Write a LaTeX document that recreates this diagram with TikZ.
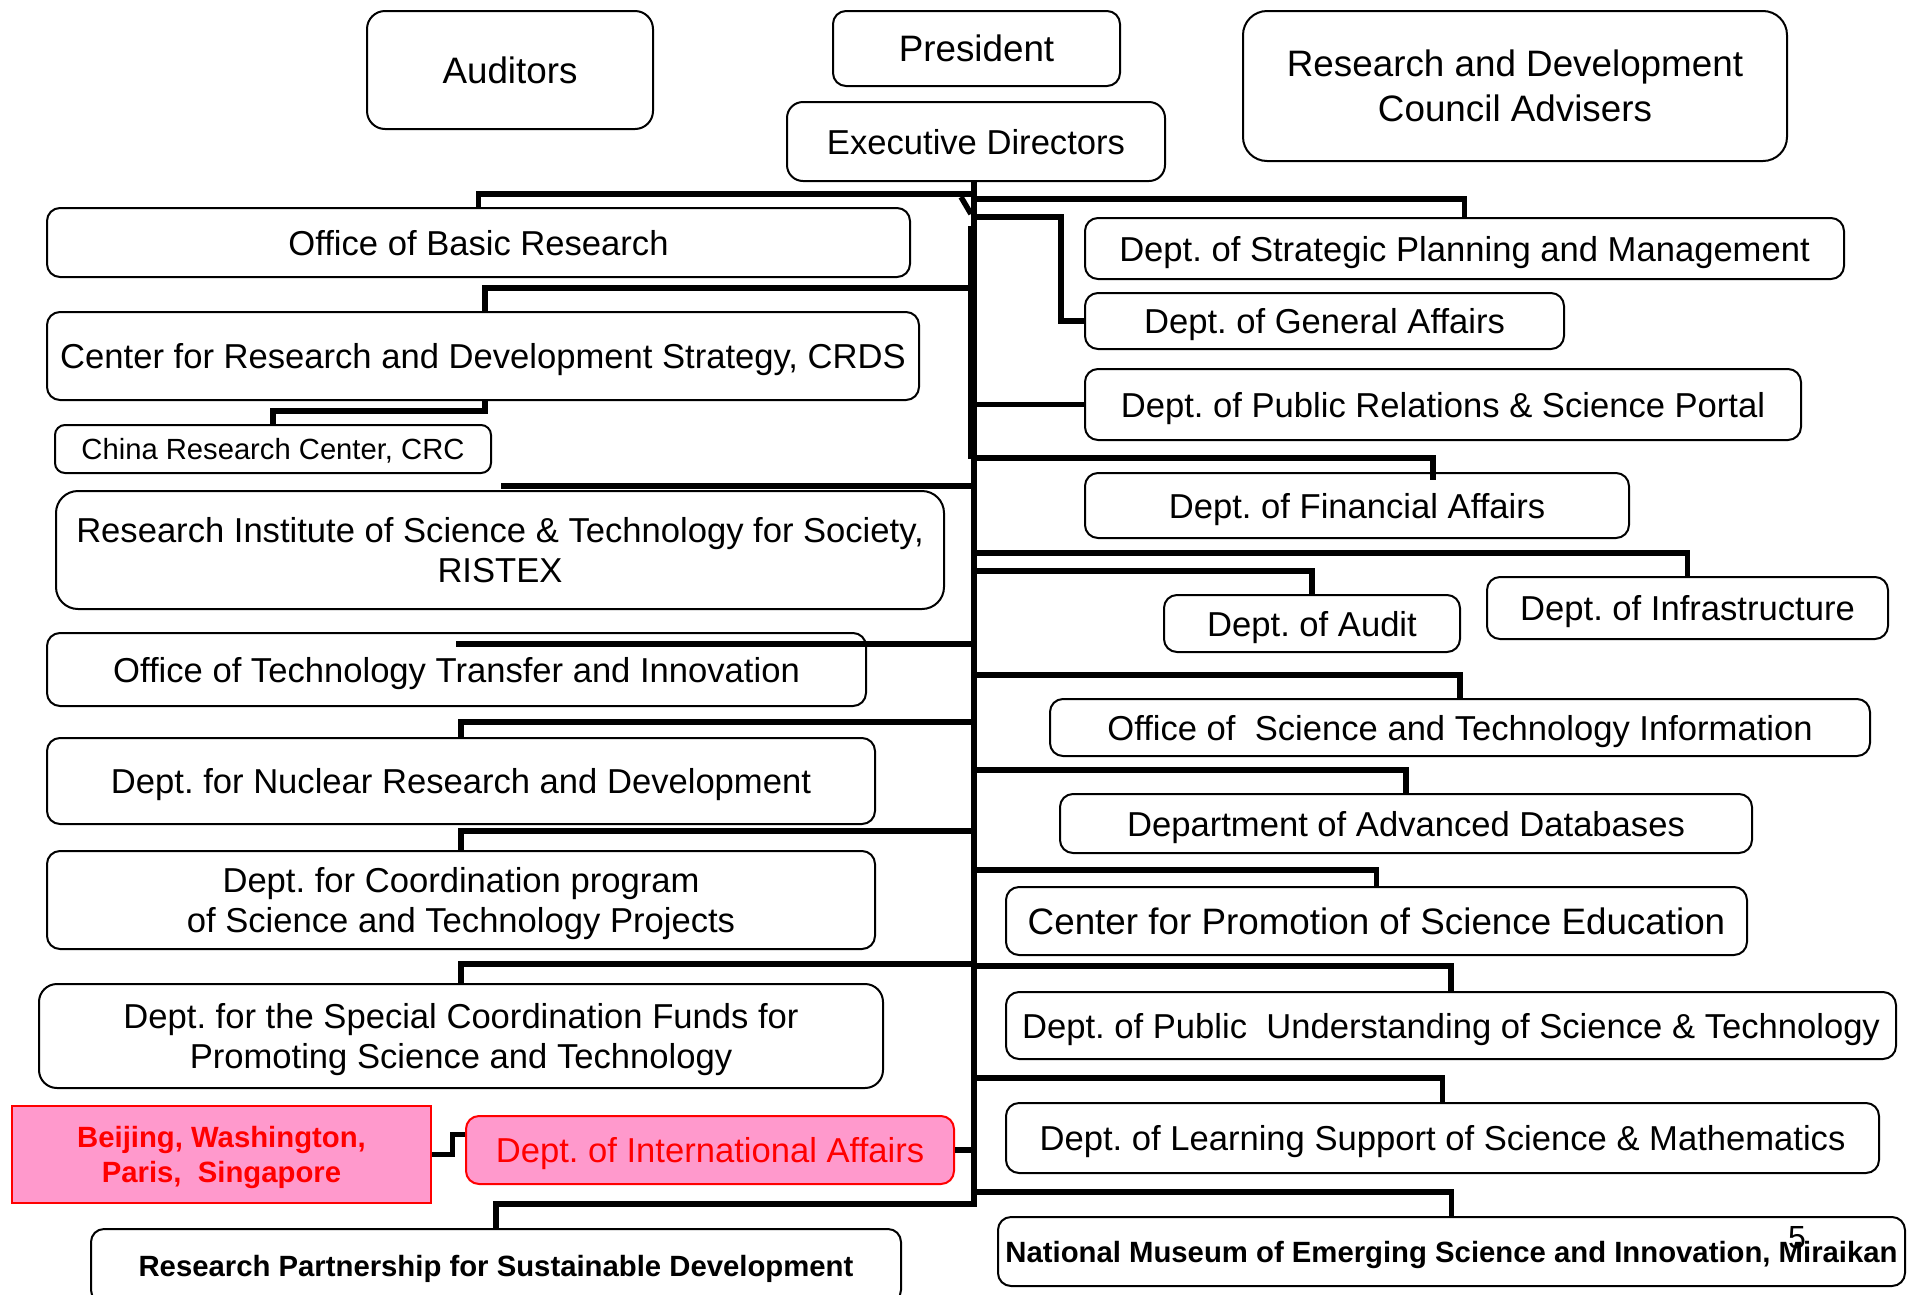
\documentclass[tikz,border=0pt]{standalone}
\usepackage{fontspec}
\setmainfont{Liberation Sans}
\frenchspacing
\definecolor{pinkfill}{RGB}{255,153,204}
\definecolor{redline}{RGB}{255,0,0}
\newcommand\fmain{\fontsize{34.6pt}{40pt}\selectfont}
\newcommand\fbig{\fontsize{36.8pt}{45pt}\selectfont}
\newcommand\fsmall{\fontsize{29.2pt}{35pt}\selectfont}
\newcommand\fbold{\bfseries\fontsize{29.3pt}{35pt}\selectfont}
\tikzset{
  box/.style={draw=black, line width=2pt, rounded corners=13pt, fill=white,
    inner sep=0pt, align=center, anchor=north west, font=\fmain, text depth=0pt},
  bigbox/.style={box, rounded corners=18pt, font=\fbig},
  pinkbox/.style={box, draw=redline, fill=pinkfill, text=redline},
  conn/.style={draw=black, line width=5.5pt},
}
% #1 options, #2 name, #3 x1, #4 y1, #5 x2, #6 y2, #7 text
\newcommand\bx[7][]{%
  \pgfmathsetmacro\bxw{#5-#3}%
  \pgfmathsetmacro\bxh{#6-#4}%
  \node[box,#1,minimum width=\bxw pt,minimum height=\bxh pt] (#2) at (#3,#4) {#7};}
\begin{document}
\begin{tikzpicture}[x=1pt,y=-1pt]
\useasboundingbox (0,0) rectangle (1912,1294);
\fill[white] (0,0) rectangle (1912,1294);

% top
\bx[bigbox]{aud}{366}{10}{652}{128}{Auditors}
\bx[bigbox,rounded corners=13pt]{pres}{832}{10}{1119}{85}{President}
\bx[rounded corners=16pt]{ed}{786}{101}{1164}{180}{Executive Directors}
\bx[bigbox,rounded corners=24pt]{rdc}{1242}{10}{1786}{160}{Research and Development\\Council Advisers}

% left column
\bx{obr}{46}{207}{909}{276}{Office of Basic Research}
\bx{crds}{46}{311}{918}{399}{Center for Research and Development Strategy, CRDS}
\bx[font=\fsmall,rounded corners=10pt]{crc}{54}{424}{490}{472}{China Research Center, CRC}
\bx[rounded corners=22pt]{ristex}{55}{490}{943}{608}{Research Institute of Science \& Technology for Society,\\RISTEX}
\bx{ottf}{46}{632}{865}{705}{Office of Technology Transfer and Innovation}
\bx{nuc}{46}{737}{874}{823}{Dept. for Nuclear Research and Development}
\bx{cpst}{46}{850}{874}{948}{Dept. for Coordination program\\of Science and Technology Projects}
\bx[rounded corners=18pt]{scf}{38}{983}{882}{1087}{Dept. for the Special Coordination Funds for\\Promoting Science and Technology}
\bx[pinkbox,rounded corners=0pt,font=\fbold]{bj}{11}{1105}{430}{1202}{Beijing, Washington,\\Paris,\ \ Singapore}
\bx[pinkbox]{ia}{465}{1115}{953}{1183}{Dept. of International Affairs}
\bx[font=\fbold]{rps}{90}{1228}{900}{1302}{Research Partnership for Sustainable Development}

% right column
\bx{spm}{1084}{217}{1843}{278}{Dept. of Strategic Planning and Management}
\bx{ga}{1084}{292}{1563}{348}{Dept. of General Affairs}
\bx{pr}{1084}{368}{1800}{439}{Dept. of Public Relations \& Science Portal}
\bx{fa}{1084}{472}{1628}{537}{Dept. of Financial Affairs}
\bx{au}{1163}{594}{1459}{651}{Dept. of Audit}
\bx{inf}{1486}{576}{1887}{638}{Dept. of Infrastructure}
\bx{sti}{1049}{698}{1869}{755}{Office of\ \ Science and Technology Information}
\bx{adb}{1059}{793}{1751}{852}{Department of Advanced Databases}
\bx[font=\fbig]{cpse}{1005}{886}{1746}{954}{Center for Promotion of Science Education}
\bx{pus}{1005}{991}{1895}{1058}{Dept. of Public\ \ Understanding of Science \& Technology}
\bx{lss}{1005}{1102}{1878}{1172}{Dept. of Learning Support of Science \& Mathematics}
\bx[font=\fbold]{nm}{997}{1216}{1904}{1285}{National Museum of Emerging Science and Innovation, Miraikan}

\node[font=\fontsize{32pt}{36pt}\selectfont, inner sep=0pt] (pg) at (1797,1238) {5};

% trunk coordinates
\coordinate (tbot) at (974,1207);
\coordinate (tobr) at (974,194);
\coordinate (tspm) at (974,199);
\coordinate (tga) at (974,217);
\coordinate (tcrds) at (974,288);
\coordinate (tfa) at (974,458);
\coordinate (tris) at (974,486);
\coordinate (tinf) at (974,553);
\coordinate (tau) at (974,571);
\coordinate (tottf) at (974,644);
\coordinate (tsti) at (974,675);
\coordinate (tnuc) at (974,722);
\coordinate (tadb) at (974,770);
\coordinate (tcpst) at (974,831);
\coordinate (tcpse) at (974,870);
\coordinate (tscf) at (974,964);
\coordinate (tpus) at (974,966);
\coordinate (tlss) at (974,1078);
\coordinate (tnm) at (974,1192);
\coordinate (trps) at (974,1204);
\coordinate (risend) at (501,486);
\coordinate (ottfend) at (456,644);
\coordinate (faend) at (1433,480);
\coordinate (ydiag) at (961,197);
\coordinate (ydiagb) at (971,214);

% trunk
\draw[line width=6pt] (ed.south -| tbot) -- (tbot);
\draw[line width=9pt] (972.5,226) -- (972.5,459);
\draw[conn] (ydiag) -- (ydiagb);

% left branches
\draw[conn] (tobr) -| (obr.north);
\draw[conn] (tcrds) -| ([xshift=2pt]crds.north);
\draw[conn] ([xshift=2pt]crds.south) |- ([yshift=13pt]crc.north) -- (crc.north);
\draw[conn] (tris) -- (risend);
\draw[conn] (tottf) -- (ottfend);
\draw[conn] (tnuc) -| (nuc.north);
\draw[conn] (tcpst) -| (cpst.north);
\draw[conn] (tscf) -| (scf.north);
\draw[conn] (ia.east) -- (ia.east -| tbot);
\draw[conn] (trps) -| (rps.north);
\draw[line width=5pt] (bj.east) -| ([shift={(-13pt,16pt)}]ia.west) -- ([yshift=16pt]ia.west);

% right branches
\draw[conn] (tspm) -| (spm.north);
\draw[conn] (tga) -| ([xshift=-23pt]ga.west) -- (ga.west);
\draw[conn] (pr.west -| tbot) -- (pr.west);
\draw[conn] (tfa) -| (faend);
\draw[conn] (tinf) -| (inf.north);
\draw[conn] (tau) -| (au.north);
\draw[conn] (tsti) -| (sti.north);
\draw[conn] (tadb) -| (adb.north);
\draw[conn] (tcpse) -| (cpse.north);
\draw[conn] (tpus) -| (pus.north);
\draw[conn] (tlss) -| (lss.north);
\draw[conn] (tnm) -| (nm.north);
\end{tikzpicture}
\end{document}
